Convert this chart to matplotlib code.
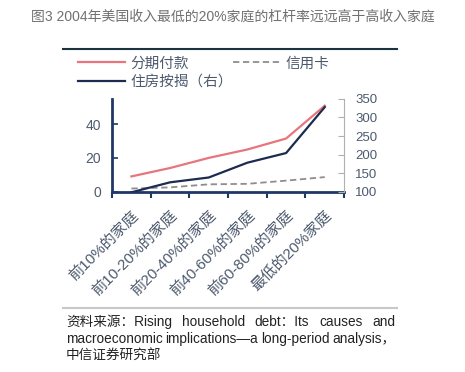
import matplotlib.pyplot as plt
import numpy as np

plt.rcParams['font.family'] = ['Liberation Sans', 'Noto Sans CJK SC']

categories = ['前10%的家庭', '前10-20%的家庭', '前20-40%的家庭',
              '前40-60%的家庭', '前60-80%的家庭', '最低的20%家庭']
installment = [9, 14, 20, 25, 31.5, 51]      # 分期付款 (left)
credit_card = [1.8, 2.5, 4.3, 4.6, 6.5, 8.6]  # 信用卡 (left)
mortgage = [98, 125, 138, 178, 204, 328]     # 住房按揭 (right)

title = '图3 2004年美国收入最低的20%家庭的杠杆率远远高于高收入家庭'
source = ['资料来源：Rising household debt：Its causes and',
          'macroeconomic implications—a long-period analysis，',
          '中信证券研究部']

RED = '#e8757d'
NAVY = '#1c2b4f'
GRAY = '#8e8e8e'
AXC = '#1f3866'
TXT = '#4d5a6e'

fig = plt.figure(figsize=(4.65, 3.72), dpi=100)
ax = fig.add_axes([0.241, 0.485, 0.499, 0.249])
ax2 = ax.twinx()

x = np.arange(len(categories))
l1, = ax.plot(x, installment, color=RED, lw=1.6)
l2, = ax.plot(x, credit_card, color=GRAY, lw=1.3, ls=(0, (3.5, 2)))
l3, = ax2.plot(x, mortgage, color=NAVY, lw=1.6)

ax.set_xlim(-0.5, len(categories) - 0.5)
ax.set_ylim(0, 55)
ax.set_yticks([0, 20, 40])
ax2.set_ylim(100, 350)
ax2.set_yticks([100, 150, 200, 250, 300, 350])

ax.set_xticks(np.arange(len(categories) + 1) - 0.5)
ax.set_xticklabels([])
ax.set_xticks(x, minor=True)
ax.set_xticklabels(categories, minor=True, rotation=45, ha='right',
                   va='top', rotation_mode='anchor', fontsize=11, color=TXT)
ax.tick_params(axis='x', which='minor', length=0, pad=12)
ax.tick_params(axis='x', which='major', direction='out', length=4, width=1.5, color=AXC)
ax.tick_params(axis='y', direction='in', length=4, width=1.2, color=AXC,
               labelsize=10, labelcolor=TXT, pad=8)
ax2.tick_params(axis='y', direction='in', length=4, width=0.8, color='#b0b0b0',
                labelsize=9.5, labelcolor=TXT, pad=8)

for s in ['top', 'right']:
    ax.spines[s].set_visible(False)
ax.spines['left'].set_color(AXC)
ax.spines['left'].set_linewidth(2)
ax.spines['bottom'].set_color(AXC)
ax.spines['bottom'].set_linewidth(2)
for s in ['top', 'left', 'bottom']:
    ax2.spines[s].set_visible(False)
ax2.spines['right'].set_color('#b0b0b0')
ax2.spines['right'].set_linewidth(0.8)

fig.text(0.5, 0.955, title, ha='center', va='center', fontsize=10, color='#707070')
fig.add_artist(plt.Line2D([0.135, 0.854], [0.868, 0.868], color='#1a3340', lw=1.5))
fig.legend([l1, l3, l2], ['分期付款', '住房按揭（右）', '信用卡'],
           loc='upper left', bbox_to_anchor=(0.168, 0.848), ncol=2,
           frameon=False, fontsize=10.5, handlelength=3.2, handletextpad=0.4,
           columnspacing=0.0, labelspacing=0.3, labelcolor=TXT, borderaxespad=0,
           borderpad=0)

fig.add_artist(plt.Line2D([0.135, 0.854], [0.172, 0.172], color='#c8c8c8', lw=1.5))

# justified source note
renderer = fig.canvas.get_renderer()
x0, x1 = 0.142, 0.850
for i, line in enumerate(source):
    y = 0.135 - i * 0.046
    words = line.split(' ')
    if i == len(source) - 1 or len(words) == 1:
        fig.text(x0, y, line, ha='left', va='center', fontsize=9.8, color='#222222')
        continue
    texts = [fig.text(0, y, w, ha='left', va='center', fontsize=9.8, color='#222222')
             for w in words]
    widths = [t.get_window_extent(renderer).width / fig.bbox.width for t in texts]
    gap = (x1 - x0 - sum(widths)) / (len(words) - 1)
    pos = x0
    for t, w in zip(texts, widths):
        t.set_x(pos)
        pos += w + gap

fig.savefig('out.png', dpi=100)
